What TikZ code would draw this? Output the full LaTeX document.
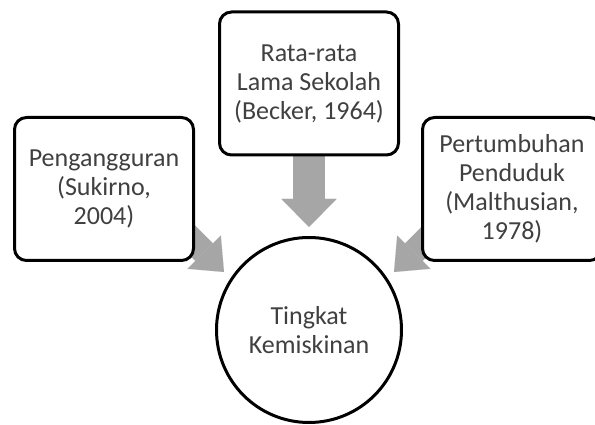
\documentclass[tikz,border=0pt]{standalone}
\usepackage{fontspec}
\setmainfont{Carlito}
\definecolor{arrowGray}{HTML}{A6A6A6}
\definecolor{textDark}{HTML}{404040}
\usetikzlibrary{calc, arrows.meta, backgrounds}

\begin{document}
\begin{tikzpicture}[x=1pt, y=1pt,
    factorbox/.style={draw=black, line width=3pt, rounded corners=12pt, fill=white,
      minimum width=179pt, minimum height=143pt, inner sep=0pt, align=center,
      text=textDark, font=\fontsize{26pt}{29pt}\selectfont},
    resultcircle/.style={circle, draw=black, line width=3pt, fill=white,
      minimum size=185pt, inner sep=0pt, align=center,
      text=textDark, font=\fontsize{26pt}{29pt}\selectfont},
    downarrow/.style={draw=arrowGray, line width=32pt,
      -{Triangle[length=28pt, width=55pt, line width=0.01pt]}},
    sidearrow/.style={draw=arrowGray, line width=25pt,
      -{Triangle[length=28pt, width=47pt, line width=0.01pt]}}]
  \useasboundingbox (0,0) rectangle (595,425);

  % boxes
  \node[factorbox] (sekolah) at (309,341.5) {Rata-rata\\Lama Sekolah\\(Becker, 1964)};
  \node[factorbox] (pengangguran) at (104,236) {Pengangguran\\(Sukirno,\\2004)};
  \node[factorbox] (penduduk) at (512,236) {Pertumbuhan\\Penduduk\\(Malthusian,\\1978)};
  \node[resultcircle] (kemiskinan) at (309,95) {Tingkat\\Kemiskinan};

  % arrow ends
  \coordinate (ltip) at ($(kemiskinan.center)+(-85,58)$);
  \coordinate (rtip) at ($(kemiskinan.center)+(85,58)$);
  \coordinate (ltail) at ($(ltip)+(135:60)$);
  \coordinate (rtail) at ($(rtip)+(45:60)$);

  \begin{scope}[on background layer]
    \draw[downarrow] (sekolah.south) -- ([yshift=9pt]kemiskinan.north);
    \draw[sidearrow] (ltail) -- (ltip);
    \draw[sidearrow] (rtail) -- (rtip);
  \end{scope}
\end{tikzpicture}
\end{document}
